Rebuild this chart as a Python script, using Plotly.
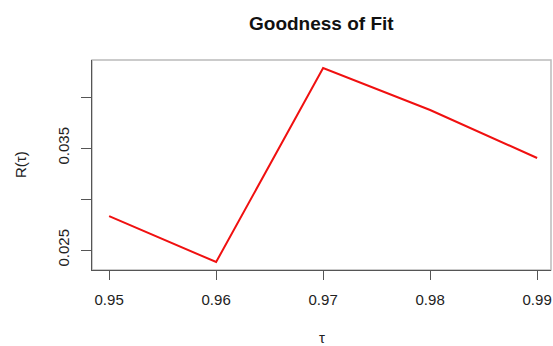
import plotly.graph_objects as go

tau = [0.95, 0.96, 0.97, 0.98, 0.99]
r_tau = [0.02833, 0.02382, 0.04284, 0.03873, 0.03402]

x_tickvals = [0.95, 0.96, 0.97, 0.98, 0.99]
x_ticktext = ["0.95", "0.96", "0.97", "0.98", "0.99"]
y_tickvals = [0.025, 0.030, 0.035, 0.040]
y_ticktext = ["0.025", "", "0.035", ""]

W, H = 553, 346
L, R, T, B = 92, 2, 60, 76

fig = go.Figure()
fig.add_trace(go.Scatter(x=tau, y=r_tau, mode="lines",
                         line=dict(color="#f01010", width=2), hoverinfo="skip"))

FAM = "Liberation Sans, Arial, sans-serif"
font = dict(family=FAM, size=15, color="#222222")

fig.update_layout(
    width=W, height=H,
    margin=dict(l=L, r=R, t=T, b=B),
    plot_bgcolor="white", paper_bgcolor="white",
    showlegend=False,
    font=font,
    xaxis=dict(range=[0.9484, 0.9484 + 459 / 10700], tickvals=x_tickvals, ticktext=x_ticktext,
               ticks="outside", ticklen=9, tickcolor="#555555", tickwidth=1,
               showline=True, linecolor="#555555", linewidth=1, mirror=False,
               showgrid=False, zeroline=False, ticklabelstandoff=7,
               tickfont=dict(family=FAM, size=15, color="#222222")),
    yaxis=dict(range=[0.02304, 0.04363], tickvals=y_tickvals, ticktext=y_ticktext,
               ticks="outside", ticklen=10, tickcolor="#555555", tickwidth=1,
               showline=True, linecolor="#555555", linewidth=1, mirror=False,
               showgrid=False, zeroline=False, tickangle=-90, ticklabelstandoff=6,
               tickfont=dict(family=FAM, size=15, color="#222222")),
    shapes=[dict(type="rect", xref="paper", yref="paper", x0=0, x1=1, y0=0, y1=1,
                 line=dict(color="#bbbbbb", width=1.5), layer="below")],
    annotations=[
        dict(text="<b>Goodness of Fit</b>", xref="paper", yref="paper", x=0.5, y=1,
             xanchor="center", yanchor="middle", yshift=37, showarrow=False,
             font=dict(size=19, color="#111111", family=FAM)),
        dict(text="τ", xref="paper", yref="paper", x=0.5, y=0, xanchor="center",
             yanchor="middle", yshift=-67, showarrow=False,
             font=dict(size=15, color="#222222", family=FAM)),
        dict(text="R(τ)", xref="paper", yref="paper", x=0, y=0.5, xanchor="center",
             yanchor="middle", xshift=-72, textangle=-90, showarrow=False,
             font=dict(size=15, color="#222222", family=FAM)),
    ],
)

fig.write_html("out.html", config={"displayModeBar": False},
               post_script="document.body.style.margin='0';")
